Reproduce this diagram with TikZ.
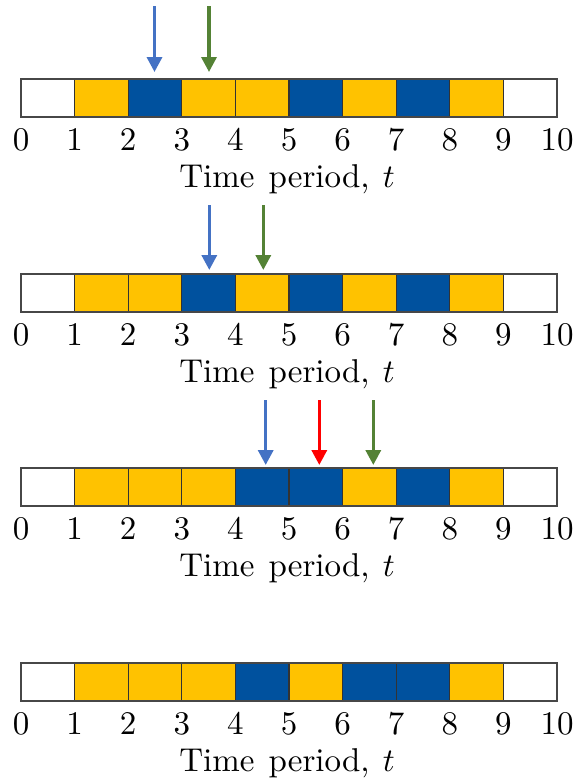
\documentclass[tikz,border=0pt]{standalone}
\usetikzlibrary{arrows.meta}
\definecolor{cy}{HTML}{FFC200}
\definecolor{cb}{RGB}{0,81,158}
\definecolor{ablue}{HTML}{4472C4}
\definecolor{agreen}{HTML}{548235}
\definecolor{ared}{HTML}{FF0000}
\definecolor{edge}{HTML}{333333}
\newcommand{\bigtxt}[1]{\scalebox{3.3}{#1}}
\tikzset{
  cell/.style={draw=edge, line width=1.2pt, minimum width=53.6pt, minimum height=38pt, inner sep=0pt, outer sep=0pt},
  W/.style={cell, fill=white},
  Y/.style={cell, fill=cy},
  B/.style={cell, fill=cb},
  frame/.style={draw=edge!90, line width=2pt},
  tick/.style={anchor=base, inner sep=0pt, font=\fontsize{10}{12}\selectfont},
  ttl/.style={anchor=base, inner sep=0pt, font=\fontsize{10}{12}\selectfont},
  arr/.style={line width=3.4pt, -{Triangle[width=15pt,length=15pt]}},
}
\begin{document}
\begin{tikzpicture}[x=1pt,y=-1pt]
\useasboundingbox (0,0) rectangle (578,779);
% rows: index / top y / colour sequence
\foreach \r/\top/\seq in {1/79/{W,Y,B,Y,Y,B,Y,B,Y,W},2/274/{W,Y,Y,B,Y,B,Y,B,Y,W},3/468/{W,Y,Y,Y,B,B,Y,B,Y,W},4/663/{W,Y,Y,Y,B,Y,B,B,Y,W}}{
  \foreach \s [count=\i from 0] in \seq {
    \node[\s] (r\r c\i) at ({21+53.6*\i+26.8},{\top+19}) {};
  }
  \draw[frame] (r\r c0.north west) rectangle (r\r c9.south east);
  \foreach \i in {0,...,10}{
    \node[tick] (r\r t\i) at ({21+53.6*\i},{\top+71}) {\bigtxt{\i}};
  }
  \node[ttl] (r\r title) at (287,{\top+108}) {\bigtxt{Time\hspace{4.3pt}period,\hspace{4pt}$t$}};
}
% arrows
\coordinate (a1bs) at (154.5,6);   \coordinate (a1be) at (154.5,72);
\coordinate (a1gs) at (209,6);     \coordinate (a1ge) at (209,72);
\coordinate (a2bs) at (209.3,205); \coordinate (a2be) at (209.3,270);
\coordinate (a2gs) at (263.3,205); \coordinate (a2ge) at (263.3,270);
\coordinate (a3bs) at (265.7,400); \coordinate (a3be) at (265.7,465);
\coordinate (a3rs) at (319.3,400); \coordinate (a3re) at (319.3,465);
\coordinate (a3gs) at (373.3,400); \coordinate (a3ge) at (373.3,465);
\draw[arr, ablue] (a1bs) -- (a1be);
\draw[arr, agreen] (a1gs) -- (a1ge);
\draw[arr, ablue] (a2bs) -- (a2be);
\draw[arr, agreen] (a2gs) -- (a2ge);
\draw[arr, ablue] (a3bs) -- (a3be);
\draw[arr, ared] (a3rs) -- (a3re);
\draw[arr, agreen] (a3gs) -- (a3ge);
\end{tikzpicture}
\end{document}
